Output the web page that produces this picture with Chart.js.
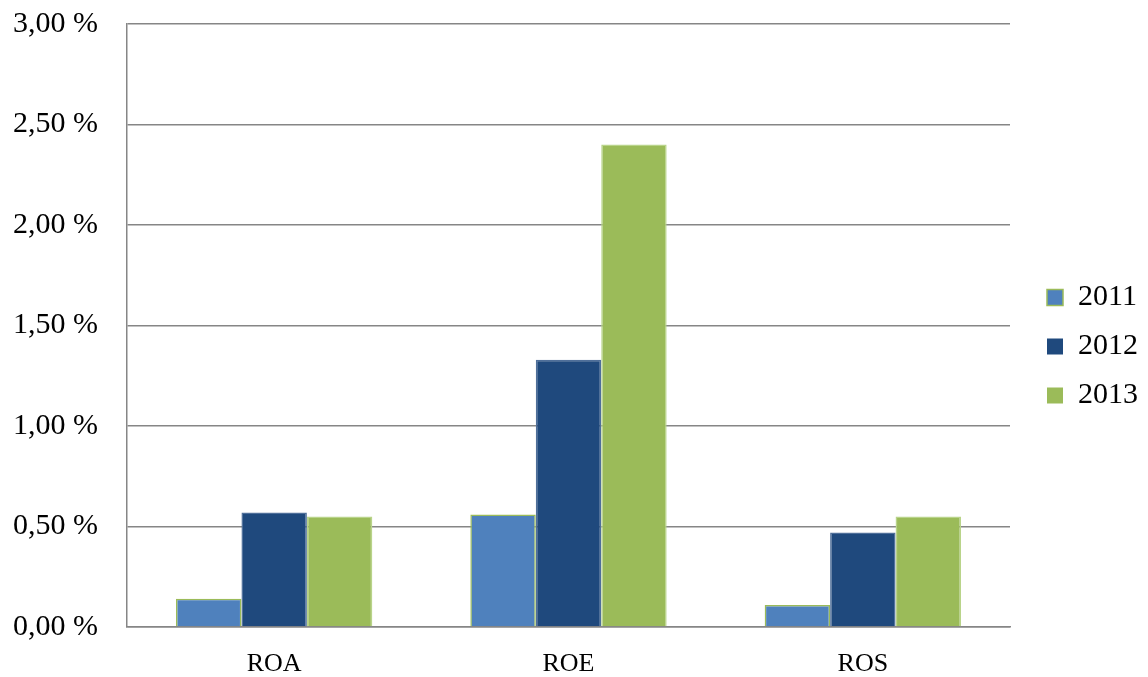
<!DOCTYPE html>
<html>
<head>
<meta charset="utf-8">
<script src="https://cdn.jsdelivr.net/npm/chart.js@4/dist/chart.umd.min.js"></script>
<style>
  html, body { margin: 0; padding: 0; background: #ffffff; }
  #wrap { width: 1148px; height: 677px; position: relative; }
</style>
</head>
<body>
<div id="wrap"><canvas id="c" width="1148" height="677"></canvas></div>
<script>
// Ratio categories and yearly values (in percent)
const categories = ['ROA', 'ROE', 'ROS'];
const years = ['2011', '2012', '2013'];
const values2011 = [0.14, 0.56, 0.11];
const values2012 = [0.57, 1.33, 0.47];
const values2013 = [0.55, 2.40, 0.55];
const yTicks = [0, 0.5, 1.0, 1.5, 2.0, 2.5, 3.0];

const fillColors = ['#4F81BD', '#1F497D', '#9BBB59'];
const edgeColors = ['#9BBB59', '#4F6F9A', '#B9D48A'];
const FONT = "'Liberation Serif', 'Times New Roman', serif";

const series = [values2011, values2012, values2013];

new Chart(document.getElementById('c'), {
  type: 'bar',
  data: {
    labels: categories,
    datasets: years.map((y, i) => ({
      label: y,
      data: series[i],
      yAxisID: 'y',
      backgroundColor: fillColors[i],
      borderColor: edgeColors[i],
      borderWidth: 1.5,
      barPercentage: 1.0,
      categoryPercentage: 0.667
    }))
  },
  options: {
    responsive: false,
    animation: false,
    devicePixelRatio: 1,
    layout: { padding: { top: 16, right: 0, bottom: 0, left: 0 } },
    plugins: {
      tooltip: { enabled: false },
      legend: {
        position: 'right',
        align: 'center',
        labels: {
          font: { family: FONT, size: 30 },
          color: '#000000',
          boxWidth: 16,
          boxHeight: 16,
          padding: 19,
          generateLabels(chart) {
            return chart.data.datasets.map((ds, i) => ({
              text: ds.label,
              fillStyle: ds.backgroundColor,
              strokeStyle: ds.borderColor,
              lineWidth: i === 0 ? 1.5 : 0,
              fontColor: '#000000',
              datasetIndex: i
            }));
          }
        }
      }
    },
    scales: {
      x: {
        afterFit(axis) { axis.height = 50; },
        grid: { display: false, drawTicks: false },
        border: { display: true, color: '#868686', width: 1.5 },
        ticks: {
          font: { family: FONT, size: 26 },
          color: '#000000',
          padding: 22
        }
      },
      y: {
        min: 0,
        max: 3,
        afterBuildTicks(axis) {
          axis.ticks = yTicks.map(v => ({ value: v }));
        },
        afterFit(axis) {
          axis.width = 127;
          axis.paddingTop = 24;
          axis.paddingBottom = 0;
        },
        grid: { color: '#868686', lineWidth: 1.5, drawTicks: false },
        border: { display: true, color: '#868686', width: 1.5 },
        ticks: {
          font: { family: FONT, size: 30 },
          color: '#000000',
          padding: 29,
          callback: v => v.toFixed(2).replace('.', ',') + ' %'
        }
      },
      // spacer between the plot and the legend
      gap: {
        type: 'linear',
        position: 'right',
        display: true,
        afterFit(axis) { axis.width = 18; },
        grid: { display: false, drawTicks: false },
        border: { display: false },
        ticks: { display: false }
      }
    }
  }
});
</script>
</body>
</html>
